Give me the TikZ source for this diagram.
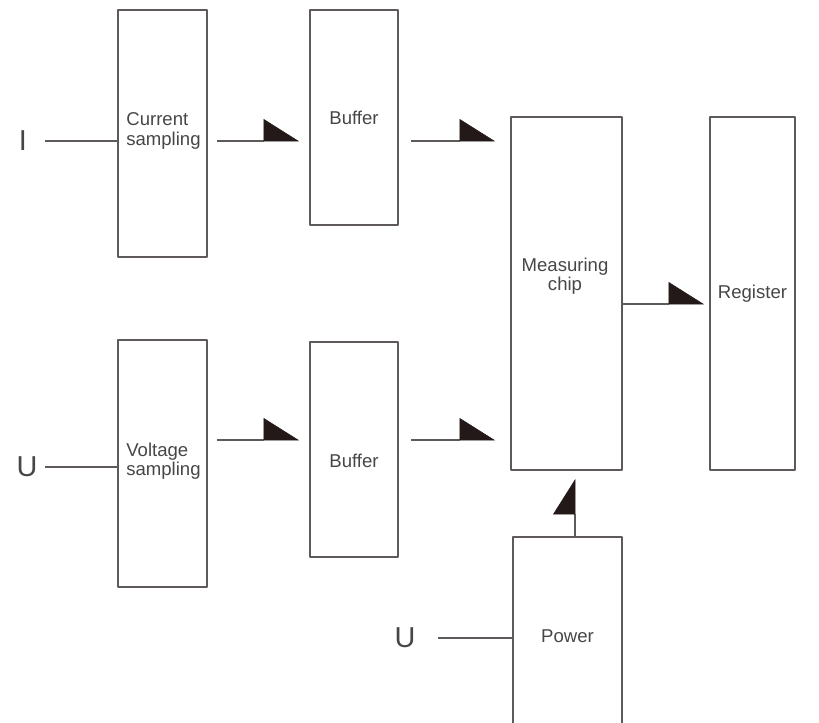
\documentclass[tikz,border=0pt]{standalone}
\usepackage{fontspec}
\setmainfont{Liberation Sans}
\usetikzlibrary{arrows.meta,calc}
\definecolor{edgegray}{RGB}{95,90,90}
\definecolor{tipdark}{RGB}{35,25,25}
\definecolor{txtgray}{RGB}{70,70,70}

\begin{document}
\begin{tikzpicture}[x=0.025cm,y=-0.025cm,line width=1.4pt,line join=round,
  blk/.style={draw=edgegray,rectangle,inner sep=0pt,text=txtgray,align=center,
    font=\fontsize{13.2}{13.8}\selectfont},
  txt/.style={text=txtgray,align=center,inner sep=0pt,font=\fontsize{13.2}{13.8}\selectfont},
  inlbl/.style={text=txtgray,inner sep=0pt,font=\fontsize{20.5}{22}\selectfont},
  flow/.style={draw=edgegray,-{Triangle[harpoon,length=0.875cm,width=1.1cm,
    fill=tipdark,color=tipdark,line width=0.4pt]}},
  wire/.style={draw=edgegray}]
\clip (0,0) rectangle (819,722);
% blocks
\node[blk,minimum width=2.225cm,minimum height=6.175cm] (cur) at (162.5,133.5) {};
\node[txt,align=left] (curT) at (163.5,131) {Current\\sampling};
\node[blk,minimum width=2.2cm,minimum height=5.375cm] (buf1) at (354,117.5) {Buffer};
\node[blk,minimum width=2.775cm,minimum height=8.825cm] (meas) at (566.5,293.5) {};
\node[txt] (measT) at (565,276) {Measuring\\chip};
\node[blk,minimum width=2.125cm,minimum height=8.825cm] (reg) at (752.5,293.5) {Register};
\node[blk,minimum width=2.225cm,minimum height=6.175cm] (volt) at (162.5,463.5) {};
\node[txt,align=left] (voltT) at (163.5,461) {Voltage\\sampling};
\node[blk,minimum width=2.2cm,minimum height=5.375cm] (buf2) at (354,449.5) {};
\node[txt] (buf2T) at (354,461) {Buffer};
\node[blk,minimum width=2.725cm,minimum height=4.95cm] (pow) at (567.5,636) {Power};
% inputs
\node[inlbl] (inI) at (23,141) {I};
\node[inlbl] (inU) at (27,467) {U};
\node[inlbl] (inP) at (405,638) {U};
\draw[wire] ($(inI)+(22,0)$) -- (inI -| cur.west);
\draw[wire] ($(inU)+(18,0)$) -- (inU -| volt.west);
\draw[wire] ($(inP)+(33,0)$) -- (inP -| pow.west);
% signal rows
\coordinate (rowI) at (0,141);
\coordinate (rowV) at (0,440);
\coordinate (rowM) at (0,304);
\coordinate (colP) at (575,0);
\draw[flow,shorten <=9*0.025cm,shorten >=10*0.025cm] (cur.east |- rowI) -- (buf1.west |- rowI);
\draw[flow,shorten <=12*0.025cm,shorten >=15*0.025cm] (buf1.east |- rowI) -- (meas.west |- rowI);
\draw[flow,shorten <=9*0.025cm,shorten >=10*0.025cm] (volt.east |- rowV) -- (buf2.west |- rowV);
\draw[flow,shorten <=12*0.025cm,shorten >=15*0.025cm] (buf2.east |- rowV) -- (meas.west |- rowV);
\draw[flow,shorten >=5*0.025cm] (meas.east |- rowM) -- (reg.west |- rowM);
\draw[flow,shorten >=8*0.025cm] (pow.north -| colP) -- (meas.south -| colP);
\end{tikzpicture}
\end{document}
